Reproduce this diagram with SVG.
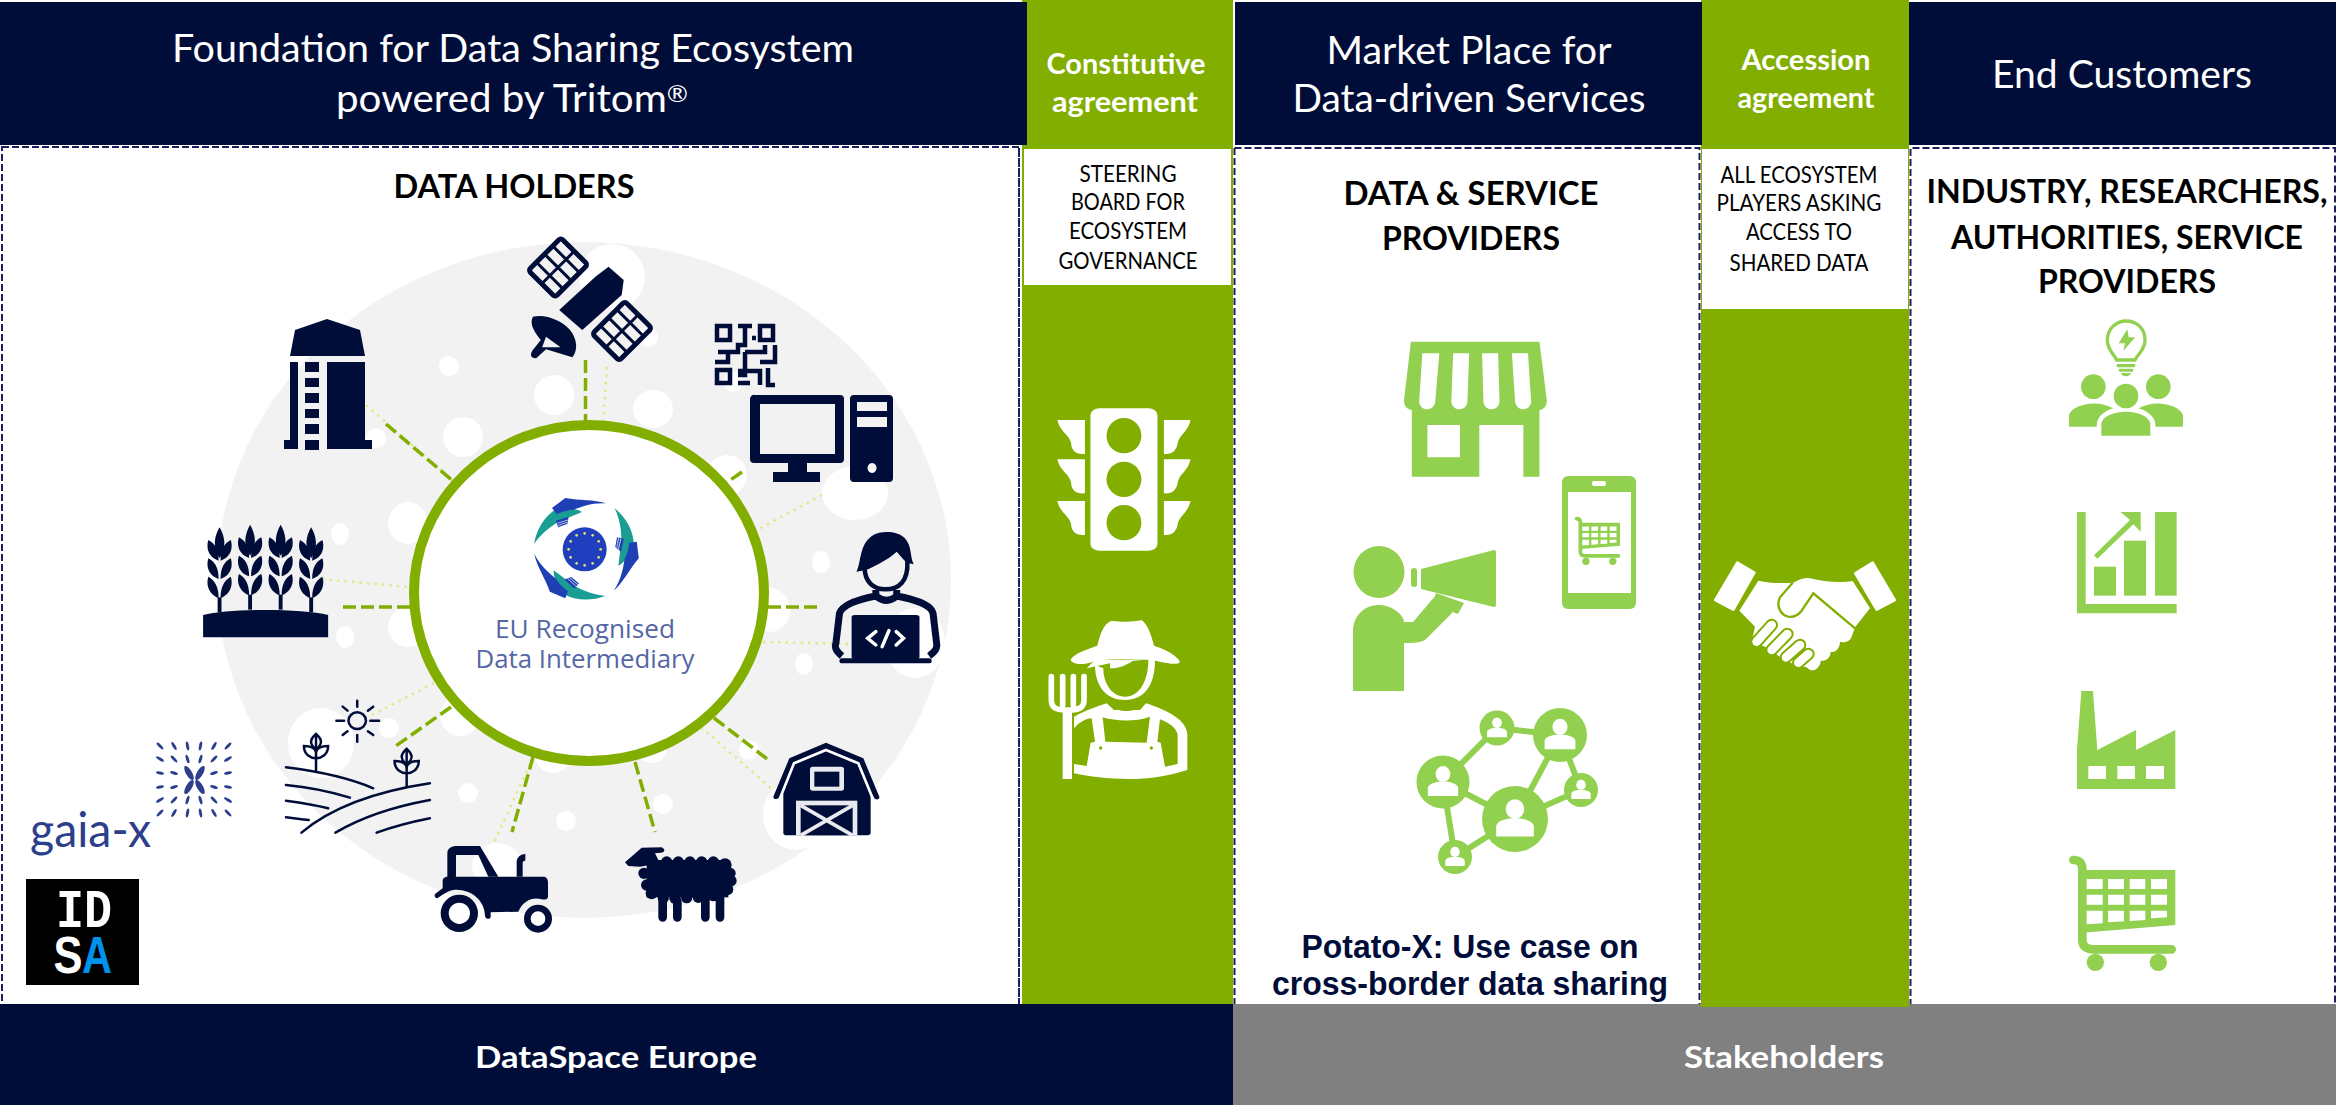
<svg xmlns="http://www.w3.org/2000/svg" xmlns:xlink="http://www.w3.org/1999/xlink" width="2336" height="1105" viewBox="0 0 2336 1105">
<style>
.navy{fill:#000D38}.grn{fill:#82AE00}.lg{fill:#92D050}.wh{fill:#fff}
.panel{fill:#fff;stroke:#1C1F5C;stroke-width:2;stroke-dasharray:7 3}
.dash{fill:none;stroke:#1C1F5C;stroke-width:2;stroke-dasharray:7 3}
text{font-family:Lato,"Liberation Sans",sans-serif;text-anchor:middle}
.head{fill:#fff;font-size:38px}
.agree{fill:#fff;font-size:29px;font-weight:700}
.title{fill:#000;font-size:32px;font-weight:700}
.small{fill:#000;font-size:24px}
.foot{fill:#fff;font-size:31px;font-weight:700}
.potato{fill:#000D38;font-family:"Liberation Sans",Arial,sans-serif;font-size:33px;font-weight:700}
.dots ellipse{fill:#fff}
.dk{fill:none;stroke:#82AE00;stroke-width:3.5;stroke-dasharray:13 5}
.pl{fill:none;stroke:#DDEB86;stroke-width:2.5;stroke-dasharray:2.5 5}
.ns{fill:none;stroke:#000D38;stroke-width:2.5;vector-effect:non-scaling-stroke;stroke-linecap:round}
.wl{fill:none;stroke:#fff;stroke-width:3.5;vector-effect:non-scaling-stroke;stroke-linecap:round}
.gx ellipse{fill:#2C3F8C}
.eut{fill:#5566A6;font-family:"Open Sans","Liberation Sans",sans-serif;font-size:26px}
</style>
<defs>
<g id="ear">
<path class="navy" d="M0,52C10,78 16,110 0,145C-16,110 -10,78 0,52Z"/>
<path class="navy" d="M-2,152C-27,140 -27,105 -23,90C-10,100 -2,118 -2,152Z"/>
<path class="navy" d="M2,152C27,140 27,105 23,90C10,100 2,118 2,152Z"/>
<path class="navy" d="M-2,207C-27,195 -27,160 -23,145C-10,155 -2,173 -2,207Z"/>
<path class="navy" d="M2,207C27,195 27,160 23,145C10,155 2,173 2,207Z"/>
<path class="navy" d="M-2,264C-27,250 -27,215 -23,200C-10,210 -2,230 -2,264Z"/>
<path class="navy" d="M2,264C27,250 27,215 23,200C10,210 2,230 2,264Z"/>
<rect class="navy" x="-4" y="262" width="8" height="45"/>
</g>
<g id="plant">
<path class="ns" d="M0,-113V0"/>
<path class="ns" d="M0,-113C15,-95 12,-80 0,-67C-12,-80 -15,-95 0,-113ZM-25,-77C-25,-50 -10,-40 0,-40C10,-40 25,-50 25,-77C10,-77 2,-70 0,-60C-2,-70 -10,-77 -25,-77Z"/>
</g>
<g id="cart">
<path d="M520,780C540,780 547,790 547,810V1020C547,1040 560,1048 580,1048H815" fill="none" stroke="#92D050" stroke-width="26" stroke-linecap="round"/>
<path class="lg" d="M547,810H826V975L547,998Z"/>
<path class="wh" d="M560,837h48v30h-48zM624,837h48v30h-48zM689,837h47v30h-47zM753,837h48v30h-48zM560,884h48v30h-48zM624,884h48v30h-48zM689,884h47v30h-47zM753,884h48v30h-48zM560,932h48v38l-48,3zM624,932h48v32l-48,3zM689,932h47v28l-47,3zM753,932h48v20l-48,3z"/>
<circle class="lg" cx="586" cy="1087" r="26"/><circle class="lg" cx="775" cy="1087" r="26"/>
</g>
<g id="usr"><ellipse class="wh" cx="0" cy="-.3" rx=".28" ry=".3"/><path class="wh" d="M-.57,.53V.2C-.5,.02 -.2,-.02 0,-.02C.2,-.02 .5,.02 .57,.2V.53Z"/></g>
<g id="arc">
<path fill="#1A9E94" d="M462,252C470,210 490,170 530,146C555,140 590,145 606,156L568,172C530,185 490,212 462,252Z"/>
<path fill="#1F3FB5" d="M516,144L556,114C600,122 640,118 678,130C635,128 605,140 578,150C560,150 540,158 530,162Z"/>
<path fill="#1F3FB5" d="M528,182L566,170L562,192L534,202Z"/>
<path d="M532,190L564,180M533,197L561,187" stroke="#fff" stroke-width="2"/>
</g>
</defs>

<rect width="2336" height="1105" fill="#fff"/>

<g id="column-constitutive"><rect class="grn" x="1022" y="0" width="211" height="1006"/></g>
<g id="column-accession"><rect class="grn" x="1701" y="0" width="208" height="1007"/></g>

<g id="header-foundation">
<rect class="navy" x="0" y="2" width="1027" height="143"/>
<text class="head" x="513" y="62" textLength="682" lengthAdjust="spacingAndGlyphs">Foundation for Data Sharing Ecosystem</text>
<text class="head" x="512" y="112" textLength="352" lengthAdjust="spacingAndGlyphs">powered by Tritom<tspan font-size="24" dy="-10">®</tspan></text>
</g>
<g id="header-constitutive">
<text class="agree" x="1126" y="74" textLength="159" lengthAdjust="spacingAndGlyphs">Constitutive</text>
<text class="agree" x="1125" y="112" textLength="146" lengthAdjust="spacingAndGlyphs">agreement</text>
</g>
<g id="header-market">
<rect class="navy" x="1235" y="2" width="467" height="143"/>
<text class="head" x="1469" y="64" textLength="285" lengthAdjust="spacingAndGlyphs">Market Place for</text>
<text class="head" x="1469" y="112" textLength="353" lengthAdjust="spacingAndGlyphs">Data-driven Services</text>
</g>
<g id="header-accession">
<text class="agree" x="1806" y="70" textLength="129" lengthAdjust="spacingAndGlyphs">Accession</text>
<text class="agree" x="1806" y="108" textLength="137" lengthAdjust="spacingAndGlyphs">agreement</text>
</g>
<g id="header-customers">
<rect class="navy" x="1909" y="2" width="427" height="143"/>
<text class="head" x="2122" y="88" textLength="260" lengthAdjust="spacingAndGlyphs">End Customers</text>
</g>

<g id="panel-data-holders">
<rect class="panel" x="2" y="147" width="1017" height="860"/>
<text class="title" x="514" y="198" textLength="241" lengthAdjust="spacingAndGlyphs">DATA HOLDERS</text>
</g>
<g id="panel-steering">
<path class="dash" d="M1019,148V1006M1234.5,148V1006"/>
<rect class="wh" x="1024" y="149" width="207" height="136"/>
<text class="small" x="1128" y="182" textLength="97" lengthAdjust="spacingAndGlyphs">STEERING</text>
<text class="small" x="1128" y="210" textLength="114" lengthAdjust="spacingAndGlyphs">BOARD FOR</text>
<text class="small" x="1128" y="239" textLength="118" lengthAdjust="spacingAndGlyphs">ECOSYSTEM</text>
<text class="small" x="1128" y="269" textLength="139" lengthAdjust="spacingAndGlyphs">GOVERNANCE</text>
</g>
<g id="panel-providers">
<path class="dash" d="M1234.5,148H1699.5V1006"/>
<text class="title" x="1471" y="205" textLength="255" lengthAdjust="spacingAndGlyphs">DATA &amp; SERVICE</text>
<text class="title" x="1471" y="250" textLength="178" lengthAdjust="spacingAndGlyphs">PROVIDERS</text>
<text class="potato" x="1470" y="958" textLength="337" lengthAdjust="spacingAndGlyphs">Potato-X: Use case on</text>
<text class="potato" x="1470" y="995" textLength="396" lengthAdjust="spacingAndGlyphs">cross-border data sharing</text>
</g>
<g id="panel-players">
<rect class="wh" x="1702" y="149" width="206" height="160"/>
<text class="small" x="1799" y="183" textLength="157" lengthAdjust="spacingAndGlyphs">ALL ECOSYSTEM</text>
<text class="small" x="1799" y="211" textLength="165" lengthAdjust="spacingAndGlyphs">PLAYERS ASKING</text>
<text class="small" x="1799" y="240" textLength="106" lengthAdjust="spacingAndGlyphs">ACCESS TO</text>
<text class="small" x="1799" y="271" textLength="139" lengthAdjust="spacingAndGlyphs">SHARED DATA</text>
</g>
<g id="panel-customers">
<path class="dash" d="M1910.5,1006V148H2335V1006"/>
<text class="title" x="2127" y="203" textLength="401" lengthAdjust="spacingAndGlyphs">INDUSTRY, RESEARCHERS,</text>
<text class="title" x="2127" y="249" textLength="352" lengthAdjust="spacingAndGlyphs">AUTHORITIES, SERVICE</text>
<text class="title" x="2127" y="293" textLength="178" lengthAdjust="spacingAndGlyphs">PROVIDERS</text>
</g>

<g id="footer-dataspace"><rect class="navy" x="0" y="1004" width="1233" height="101"/>
<text class="foot" x="616" y="1068" textLength="282" lengthAdjust="spacingAndGlyphs">DataSpace Europe</text></g>
<g id="footer-stakeholders"><rect x="1233" y="1004" width="1103" height="101" fill="#808080"/>
<rect class="grn" x="1701" y="1004" width="208" height="3"/>
<text class="foot" x="1784" y="1068" textLength="200" lengthAdjust="spacingAndGlyphs">Stakeholders</text></g>

<g id="backdrop">
<ellipse cx="584" cy="580" rx="367" ry="338" fill="#F2F2F2"/>
<g class="dots">
<ellipse cx="612" cy="277" rx="33" ry="33"/><ellipse cx="449" cy="366" rx="10" ry="10"/><ellipse cx="554" cy="395" rx="20" ry="20"/><ellipse cx="653" cy="409" rx="20" ry="19"/><ellipse cx="463" cy="437" rx="20" ry="20"/><ellipse cx="376" cy="438" rx="10" ry="10"/><ellipse cx="727" cy="475" rx="20" ry="20"/><ellipse cx="408" cy="523" rx="20" ry="21"/><ellipse cx="340" cy="534" rx="9" ry="11"/><ellipse cx="855" cy="493" rx="33" ry="27"/><ellipse cx="821" cy="562" rx="9" ry="11"/><ellipse cx="733" cy="382" rx="10" ry="10"/><ellipse cx="648" cy="337" rx="10" ry="10"/><ellipse cx="345" cy="637" rx="9" ry="11"/><ellipse cx="804" cy="664" rx="9" ry="11"/><ellipse cx="915" cy="643" rx="30" ry="35"/><ellipse cx="408" cy="627" rx="20" ry="20"/><ellipse cx="770" cy="610" rx="20" ry="22"/><ellipse cx="321" cy="743" rx="33" ry="35"/><ellipse cx="389" cy="728" rx="10" ry="10"/><ellipse cx="460" cy="716" rx="20" ry="20"/><ellipse cx="468" cy="793" rx="10" ry="10"/><ellipse cx="553" cy="755" rx="18" ry="18"/><ellipse cx="566" cy="821" rx="10" ry="10"/><ellipse cx="663" cy="804" rx="10" ry="10"/><ellipse cx="749" cy="750" rx="10" ry="10"/><ellipse cx="796" cy="815" rx="33" ry="35"/><ellipse cx="497" cy="866" rx="25" ry="23"/><ellipse cx="652" cy="748" rx="15" ry="15"/>
</g>
</g>

<g id="connectors">
<path class="pl" d="M607,367L603,422"/><path class="pl" d="M366,405L453,481"/><path class="pl" d="M322,579L408,587"/><path class="pl" d="M822,495L757,530"/><path class="pl" d="M763,642L852,644"/><path class="pl" d="M434,683L372,715"/><path class="pl" d="M533,757L493,845"/><path class="pl" d="M701,727L773,790"/>
<path class="dk" d="M585.5,360V422"/><path class="dk" d="M386,424L453,481"/><path class="dk" d="M742,472L726,483"/><path class="dk" d="M343,607H411"/><path class="dk" d="M768,607H822"/><path class="dk" d="M451,707L393,748"/><path class="dk" d="M533,757L512,832"/><path class="dk" d="M635,762L655,832"/><path class="dk" d="M714,718L771,762"/>
</g>

<g id="node-intermediary">
<ellipse cx="589" cy="593" rx="175" ry="168" fill="#fff" stroke="#82AE00" stroke-width="10"/>
<g transform="translate(380,460) scale(.33333)">
<use href="#arc"/><use href="#arc" transform="rotate(120 614 268)"/><use href="#arc" transform="rotate(240 614 268)"/>
<circle cx="614" cy="268" r="66" fill="#1F3FBF"/>
<g fill="#E6E36A"><circle cx="662" cy="268" r="4"/><circle cx="566" cy="268" r="4"/><circle cx="614" cy="220" r="4"/><circle cx="614" cy="316" r="4"/><circle cx="656" cy="244" r="4"/><circle cx="656" cy="292" r="4"/><circle cx="572" cy="244" r="4"/><circle cx="572" cy="292" r="4"/><circle cx="638" cy="226" r="4"/><circle cx="590" cy="226" r="4"/><circle cx="638" cy="310" r="4"/><circle cx="590" cy="310" r="4"/></g>
</g>
<text class="eut" x="585" y="638" textLength="180" lengthAdjust="spacingAndGlyphs">EU Recognised</text>
<text class="eut" x="585" y="668" textLength="219" lengthAdjust="spacingAndGlyphs">Data Intermediary</text>
</g>

<g id="node-silo" class="navy">
<path d="M290,356L295,330L327,319L360,330L365,356Z"/>
<path d="M290,362H298V449H284V440H290ZM305,362h14v10h-14zM305,378h14v9h-14zM305,393h14v10h-14zM305,409h14v9h-14zM305,424h14v10h-14zM305,440h14v10h-14zM327,362h38v78h7v9h-45z"/>
</g>

<g id="node-satellite">
<g transform="translate(558,267.5) rotate(-45)"><rect x="-23" y="-19" width="46" height="38" rx="3" fill="none" stroke="#000D38" stroke-width="5"/><path d="M-23,0H23M-11.500,-19V19M0,-19V19M11.500,-19V19" stroke="#000D38" stroke-width="3"/></g>
<g transform="translate(622,331) rotate(-45)"><rect x="-23" y="-19" width="46" height="38" rx="3" fill="none" stroke="#000D38" stroke-width="5"/><path d="M-23,0H23M-11.500,-19V19M0,-19V19M11.500,-19V19" stroke="#000D38" stroke-width="3"/></g>
<g transform="translate(0,140) scale(.6579,.3333)">
<path class="navy" d="M925,380L948,420L945,465L885,570L850,510L905,410Z"/>
<path class="navy" fill-rule="evenodd" d="M810,530C830,520 860,545 870,580C880,615 875,640 870,652L830,628L815,655C805,655 805,640 812,625L822,600C810,570 805,550 810,530ZM830,590L824,622L852,622Z"/>
</g>
</g>

<g id="node-qr">
<g fill="none" stroke="#000D38" stroke-width="4.500"><rect x="717" y="326" width="13" height="14"/><rect x="760" y="326" width="13" height="14"/><rect x="717" y="370" width="13" height="13"/>
<path d="M738,326H752M745,326V345H738V352H718M715,362H728V353M745,352H765V345M775,345V362H760M745,352V375H738M738,371H760V385M738,383H750M768,368V385H775M752,338h4"/></g>
</g>

<g id="node-computer" class="navy">
<path fill-rule="evenodd" d="M755,395H840a4,4 0 0 1 4,4V459a4,4 0 0 1 -4,4H807V472H820V482H773V472H788V463H754a4,4 0 0 1 -4,-4V399a4,4 0 0 1 5,-4ZM760,404V454H835V404Z"/>
<path fill-rule="evenodd" d="M854,395H889a4,4 0 0 1 4,4V478a4,4 0 0 1 -4,4H854a4,4 0 0 1 -4,-4V399a4,4 0 0 1 4,-4ZM857,402V411H887V402ZM857,417V427H887V417ZM872,463a4.500,5 0 1 0 .1,0Z"/>
</g>

<g id="node-developer" transform="translate(190,510) scale(.4847,.3333)">
<path class="navy" d="M1375,185C1385,160 1380,100 1410,75C1425,62 1460,62 1475,85C1490,110 1485,140 1493,163L1478,158L1458,125C1440,150 1410,170 1395,180Z"/>
<path class="ns" style="stroke-width:4.500" d="M1392,175C1392,215 1410,238 1435,238C1462,238 1482,215 1480,155"/>
<path class="ns" style="stroke-width:7;stroke-linecap:butt" d="M1345,438C1330,420 1330,410 1333,395L1340,310C1345,285 1380,268 1415,258V240M1525,438C1542,420 1542,410 1540,395L1533,310C1530,285 1495,268 1458,258V240M1415,258C1430,275 1445,275 1458,258"/>
<rect class="navy" x="1365" y="315" width="140" height="132" rx="7"/>
<rect class="navy" x="1340" y="445" width="190" height="15" rx="5"/>
<path class="wl" d="M1415,365L1398,385L1415,405M1457,365L1472,385L1457,405M1442,362L1428,410"/>
</g>

<g id="node-wheat" transform="translate(190,510) scale(.4847,.3333)">
<use href="#ear" x="61"/><use href="#ear" x="124" y="-8"/><use href="#ear" x="187" y="-8"/><use href="#ear" x="250"/>
<path class="navy" d="M27,315C80,295 230,295 285,315V382H27Z"/>
</g>

<g id="node-field" transform="translate(190,510) scale(.4847,.3333)">
<path class="ns" d="M198,772C270,785 330,805 378,835M198,825C250,832 290,845 330,863M198,872C230,878 260,885 285,895M198,922C215,925 230,927 245,930M230,968C290,895 380,845 495,820M300,968C350,925 420,890 495,870M385,968C420,950 460,935 495,925"/>
<use href="#plant" x="260" y="785"/><use href="#plant" x="447" y="830"/>
<ellipse class="ns" cx="345" cy="632" rx="18" ry="25"/>
<path class="ns" d="M345,572V590M345,675V695M302,632H318M372,632H390M315,590L325,602M378,590L367,602M315,675L325,664M378,675L367,664"/>
</g>

<g id="node-tractor" transform="translate(420,730) scale(.33333)">
<path class="navy" d="M82,445V370C82,355 95,348 110,348H180L235,440H205L175,375H108V440ZM290,440V395C290,385 300,372 316,372V392C308,392 308,398 308,405V440Z"/>
<path class="navy" d="M68,475V452C68,445 75,440 82,440H370C380,440 384,448 384,458V500C384,507 375,510 365,508C340,500 310,510 295,545L212,547V560C212,568 198,570 195,558C195,510 150,475 100,480C80,483 60,500 52,505C45,505 40,495 48,490Z"/>
<circle cx="118" cy="550" r="44" fill="#fff" stroke="#000D38" stroke-width="24"/>
<circle cx="354" cy="566" r="32" fill="#fff" stroke="#000D38" stroke-width="20"/>
</g>

<g id="node-sheep" class="navy" transform="translate(420,730) scale(.33333)">
<path d="M615,397L665,353L725,352C737,358 735,368 722,368L705,370L720,400L660,410L625,408Z"/>
<circle cx="740" cy="396" r="17"/><circle cx="775" cy="396" r="17"/><circle cx="810" cy="396" r="17"/><circle cx="845" cy="396" r="17"/><circle cx="880" cy="396" r="17"/><circle cx="915" cy="405" r="20"/><circle cx="930" cy="430" r="17"/><circle cx="933" cy="452" r="17"/><circle cx="922" cy="478" r="18"/><circle cx="695" cy="490" r="18"/><circle cx="730" cy="503" r="17"/><circle cx="765" cy="505" r="17"/><circle cx="800" cy="503" r="17"/><circle cx="835" cy="502" r="17"/><circle cx="880" cy="497" r="17"/><circle cx="672" cy="430" r="17"/><circle cx="680" cy="465" r="17"/>
<rect x="680" y="390" width="245" height="112"/>
<path d="M728,510V562M772,515V562M856,510V562M900,495V562" stroke="#000D38" stroke-width="26" stroke-linecap="round"/>
</g>

<g id="node-barn" transform="translate(420,730) scale(.33333)">
<path class="navy" d="M1218,38L1330,85L1378,200C1380,210 1365,212 1360,200L1352,190V310C1352,315 1345,316 1340,316H1100C1095,316 1090,315 1090,310V190L1076,203C1066,212 1056,205 1062,195L1108,85Z"/>
<path d="M1080,205L1122,100L1218,60L1315,100L1358,205" fill="none" stroke="#fff" stroke-width="8"/>
<rect x="1170" y="110" width="102" height="72" rx="8" fill="#E8EAF0"/><rect class="navy" x="1183" y="125" width="75" height="45"/>
<rect x="1128" y="212" width="184" height="104" fill="#E8EAF0"/><rect class="navy" x="1142" y="226" width="156" height="90"/>
<path d="M1142,226L1298,316M1298,226L1142,316" stroke="#E8EAF0" stroke-width="11"/>
</g>

<g id="logo-gaiax">
<g class="gx">
<ellipse cx="160" cy="746" rx="1.500" ry="4.500" transform="rotate(-45 160 746)"/><ellipse cx="174" cy="746" rx="1.500" ry="4.500" transform="rotate(-30 174 746)"/><ellipse cx="187.500" cy="746" rx="1.500" ry="4.500" transform="rotate(-11 187.500 746)"/><ellipse cx="200.500" cy="746" rx="1.500" ry="4.500" transform="rotate(11 200.500 746)"/><ellipse cx="214" cy="746" rx="1.500" ry="4.500" transform="rotate(30 214 746)"/><ellipse cx="228" cy="746" rx="1.500" ry="4.500" transform="rotate(45 228 746)"/>
<ellipse cx="160" cy="759" rx="1.500" ry="4.500" transform="rotate(-58 160 759)"/><ellipse cx="174" cy="759" rx="1.500" ry="4.500" transform="rotate(-44 174 759)"/><ellipse cx="187.500" cy="759" rx="1.500" ry="4.500" transform="rotate(-17 187.500 759)"/><ellipse cx="200.500" cy="759" rx="1.500" ry="4.500" transform="rotate(17 200.500 759)"/><ellipse cx="214" cy="759" rx="1.500" ry="4.500" transform="rotate(44 214 759)"/><ellipse cx="228" cy="759" rx="1.500" ry="4.500" transform="rotate(58 228 759)"/>
<ellipse cx="160" cy="773" rx="1.500" ry="4" transform="rotate(-78 160 773)"/><ellipse cx="174" cy="773" rx="1.500" ry="4" transform="rotate(-71 174 773)"/><ellipse cx="189" cy="773" rx="3" ry="8" transform="rotate(-30 189 773)"/><ellipse cx="200" cy="773" rx="3" ry="8" transform="rotate(30 200 773)"/><ellipse cx="214" cy="773" rx="1.500" ry="4" transform="rotate(71 214 773)"/><ellipse cx="228" cy="773" rx="1.500" ry="4" transform="rotate(78 228 773)"/>
<ellipse cx="160" cy="787" rx="1.500" ry="4" transform="rotate(78 160 787)"/><ellipse cx="174" cy="787" rx="1.500" ry="4" transform="rotate(71 174 787)"/><ellipse cx="189" cy="787" rx="3" ry="8" transform="rotate(30 189 787)"/><ellipse cx="200" cy="787" rx="3" ry="8" transform="rotate(-30 200 787)"/><ellipse cx="214" cy="787" rx="1.500" ry="4" transform="rotate(-71 214 787)"/><ellipse cx="228" cy="787" rx="1.500" ry="4" transform="rotate(-78 228 787)"/>
<ellipse cx="160" cy="800" rx="1.500" ry="4.500" transform="rotate(58 160 800)"/><ellipse cx="174" cy="800" rx="1.500" ry="4.500" transform="rotate(44 174 800)"/><ellipse cx="187.500" cy="800" rx="1.500" ry="4.500" transform="rotate(17 187.500 800)"/><ellipse cx="200.500" cy="800" rx="1.500" ry="4.500" transform="rotate(-17 200.500 800)"/><ellipse cx="214" cy="800" rx="1.500" ry="4.500" transform="rotate(-44 214 800)"/><ellipse cx="228" cy="800" rx="1.500" ry="4.500" transform="rotate(-58 228 800)"/>
<ellipse cx="160" cy="813" rx="1.500" ry="4.500" transform="rotate(45 160 813)"/><ellipse cx="174" cy="813" rx="1.500" ry="4.500" transform="rotate(30 174 813)"/><ellipse cx="187.500" cy="813" rx="1.500" ry="4.500" transform="rotate(11 187.500 813)"/><ellipse cx="200.500" cy="813" rx="1.500" ry="4.500" transform="rotate(-11 200.500 813)"/><ellipse cx="214" cy="813" rx="1.500" ry="4.500" transform="rotate(-30 214 813)"/><ellipse cx="228" cy="813" rx="1.500" ry="4.500" transform="rotate(-45 228 813)"/>
</g>
<text x="90.500" y="847" font-size="48" font-weight="400" fill="#2C3F8C" textLength="121" lengthAdjust="spacingAndGlyphs">gaia-x</text>
</g>

<g id="logo-idsa">
<rect x="26" y="879" width="113" height="106" fill="#000"/>
<text style="font-weight:700" font-size="50"><tspan x="84" y="927" fill="#fff" style="font-family:'Liberation Mono',monospace" font-size="54" textLength="56" lengthAdjust="spacingAndGlyphs">ID</tspan><tspan x="68" y="973" fill="#fff" style="font-family:'Liberation Sans',sans-serif" font-size="52" textLength="29" lengthAdjust="spacingAndGlyphs">S</tspan><tspan x="97" y="973" fill="#0091EA" style="font-family:'Liberation Sans',sans-serif" font-size="52" textLength="30" lengthAdjust="spacingAndGlyphs">A</tspan></text>
</g>

<g id="node-traffic-light" transform="translate(1000,130) scale(.4591,.33333)">
<rect class="wh" x="197" y="835" width="146" height="427" rx="20"/>
<g class="grn"><ellipse cx="270" cy="917" rx="38" ry="53"/><ellipse cx="270" cy="1048" rx="38" ry="53"/><ellipse cx="270" cy="1178" rx="38" ry="53"/></g>
<g class="wh">
<path d="M125,870H185V972C165,975 155,960 155,940C152,915 130,905 125,870ZM415,870H357V972C375,975 385,960 387,940C390,915 410,905 415,870Z"/>
<path d="M125,988H185V1090C165,1093 155,1078 155,1058C152,1033 130,1023 125,988ZM415,988H357V1090C375,1093 385,1078 387,1058C390,1033 410,1023 415,988Z"/>
<path d="M125,1113H185V1215C165,1218 155,1203 155,1183C152,1158 130,1148 125,1113ZM415,1113H357V1215C375,1218 385,1203 387,1183C390,1158 410,1148 415,1113Z"/>
</g>
</g>

<g id="node-farmer" transform="translate(1040,600) scale(.33333)">
<g class="wh">
<path d="M92,180C100,160 150,145 172,137C180,105 190,70 215,62C240,65 275,68 305,60C325,75 335,110 342,137C370,145 410,165 420,185C415,195 395,193 350,183C300,175 200,175 160,185C130,195 100,195 92,180Z"/>
<path d="M140,205L165,180L325,178L278,183C260,195 240,205 210,205L210,190Z"/>
<path d="M165,195C165,260 200,300 255,300C310,300 345,260 345,180H325C325,240 300,290 255,290C215,290 190,250 190,205Z"/>
<path d="M102,350C140,330 170,320 200,310L222,330H300L318,310C380,330 442,360 442,405V510C380,530 320,537 270,537C200,537 150,530 102,520Z"/>
<rect x="68" y="330" width="28" height="207"/>
</g>
<path d="M34,230V300C34,325 50,330 82,330C115,330 132,325 132,300V230M68,230V315M100,230V315" fill="none" stroke="#fff" stroke-width="17" stroke-linecap="round"/>
<g class="grn">
<path d="M102,385C120,365 140,355 155,355L165,425L152,428L140,498L102,492ZM360,358C390,370 410,385 413,405V492L375,500L362,428L352,425ZM188,352C230,365 290,365 330,350L320,428L196,425ZM225,313H297L290,328C270,335 245,335 232,328Z"/>
<circle cx="182" cy="444" r="5"/><circle cx="334" cy="444" r="5"/>
</g>
</g>

<g id="node-handshake" transform="translate(1700,540) scale(.33333)">
<g class="wh" stroke="#fff" stroke-width="8" stroke-linejoin="round"><path d="M112,68L163,98L100,209L46,180Z"/><path d="M518,68L466,100L530,209L584,180Z"/></g>
<path class="wh" d="M175,122C210,130 250,130 280,128C295,120 310,112 330,115C370,125 420,130 458,123L510,205L465,262L455,290C450,305 430,310 420,305C420,325 405,340 392,335C392,355 375,365 362,362C362,380 345,395 330,390L320,382L285,375L240,350L195,320L155,305L165,260L118,212Z"/>
<path d="M278,128L240,172C228,195 240,225 265,230C280,232 295,225 305,212L340,160L465,265" fill="none" stroke="#82AE00" stroke-width="7"/>
<path d="M215,255L170,305M262,282L215,330M300,315L258,352M325,342L295,368" fill="none" stroke="#82AE00" stroke-width="38" stroke-linecap="round"/>
<path d="M215,255L170,305M262,282L215,330M300,315L258,352M325,342L295,368" fill="none" stroke="#fff" stroke-width="26" stroke-linecap="round"/>
</g>

<g id="node-shop" transform="translate(1000,130) scale(.4591,.33333)">
<path class="lg" d="M895,635H1175L1191,810C1191,830 1185,838 1175,840V1040H1140V885H1044V1040H897V840C887,838 880,830 880,810Z"/>
<path class="wh" d="M920,670H957L948,815C945,845 915,845 913,815ZM987,670H1022L1018,815C1016,845 985,845 983,815ZM1050,670H1085L1088,815C1086,845 1055,845 1053,815ZM1115,670H1150L1157,815C1155,845 1125,845 1122,815ZM931,885H1002V982H931Z"/>
</g>

<g id="node-phone">
<rect class="lg" x="1562" y="476" width="74" height="133" rx="6"/>
<rect class="wh" x="1568" y="492" width="63" height="101"/>
<rect class="wh" x="1592" y="481" width="14" height="5" rx="2"/>
<use href="#cart" transform="translate(1575,517) scale(.142,.139) translate(-509,-768)"/>
</g>

<g id="node-megaphone" class="lg">
<ellipse cx="1379" cy="572" rx="25.500" ry="26"/>
<path d="M1421,569L1494,550Q1496,550 1496,552V605Q1496,607 1494,607L1421,589Z"/>
<rect x="1411" y="568" width="6" height="19" rx="3"/>
<path d="M1353,691V632C1353,615 1365,605 1379,605C1392,605 1404,615 1404,622H1413L1436,595L1450,600L1452,613L1425,640C1420,643 1410,643 1404,643V691Z"/>
<path d="M1436,593L1464,603L1458,614L1447,610L1434,602Z"/>
</g>

<g id="node-network">
<path d="M1443,782L1497,728L1560,735L1581,790L1515,819L1455,857L1443,782M1560,735L1515,819M1443,782L1515,819" fill="none" stroke="#92D050" stroke-width="6"/>
<circle class="lg" cx="1443" cy="782" r="26.500"/><circle class="lg" cx="1497" cy="728" r="17.500"/><circle class="lg" cx="1560" cy="735" r="27"/><circle class="lg" cx="1581" cy="790" r="17"/><circle class="lg" cx="1515" cy="819" r="33"/><circle class="lg" cx="1455" cy="857" r="17"/>
<use href="#usr" transform="translate(1443,782) scale(26.500)"/><use href="#usr" transform="translate(1497,728) scale(17.500)"/><use href="#usr" transform="translate(1560,735) scale(27)"/><use href="#usr" transform="translate(1581,790) scale(17)"/><use href="#usr" transform="translate(1515,819) scale(33)"/><use href="#usr" transform="translate(1455,857) scale(17)"/>
</g>

<g id="node-ideas" transform="translate(1900,130) scale(.33333)">
<path d="M650,690C640,670 622,660 622,630C622,595 650,573 678,573C710,573 735,595 735,630C735,660 715,670 705,690Z" fill="none" stroke="#92D050" stroke-width="10"/>
<g class="lg">
<path d="M682,598L656,640H675L670,662L706,622H686Z"/>
<rect x="650" y="702" width="56" height="10" rx="4"/><rect x="656" y="716" width="44" height="9" rx="4"/><path d="M663,729H693C690,742 666,742 663,729Z"/>
<circle cx="580" cy="770" r="37"/><circle cx="775" cy="770" r="37"/><circle cx="678" cy="798" r="37"/>
<path d="M507,890V855C515,825 590,805 640,835C610,845 590,860 590,890ZM849,890V855C840,825 765,805 716,835C745,845 767,860 767,890ZM604,917V880C610,855 650,845 678,845C705,845 745,855 751,880V917Z"/>
</g>
</g>

<g id="node-chart" class="lg" transform="translate(1900,130) scale(.33333)">
<path d="M531,1146H557V1422H830V1450H531Z"/>
<rect x="582" y="1310" width="66" height="87"/><rect x="672" y="1232" width="66" height="165"/><rect x="765" y="1146" width="65" height="251"/>
<path d="M662,1146H722V1205L700,1183L592,1286L582,1276L690,1170Z"/>
</g>

<g id="node-factory" transform="translate(1900,600) scale(.33333)">
<path class="lg" d="M544,273H579L592,450L708,390V450L826,390V567H531V450Z"/>
<path class="wh" d="M565,498h53v39h-53zM652,498h53v39h-53zM738,498h54v39h-54z"/>
</g>

<g id="node-cart" transform="translate(1900,600) scale(.33333)"><use href="#cart"/></g>
</svg>
